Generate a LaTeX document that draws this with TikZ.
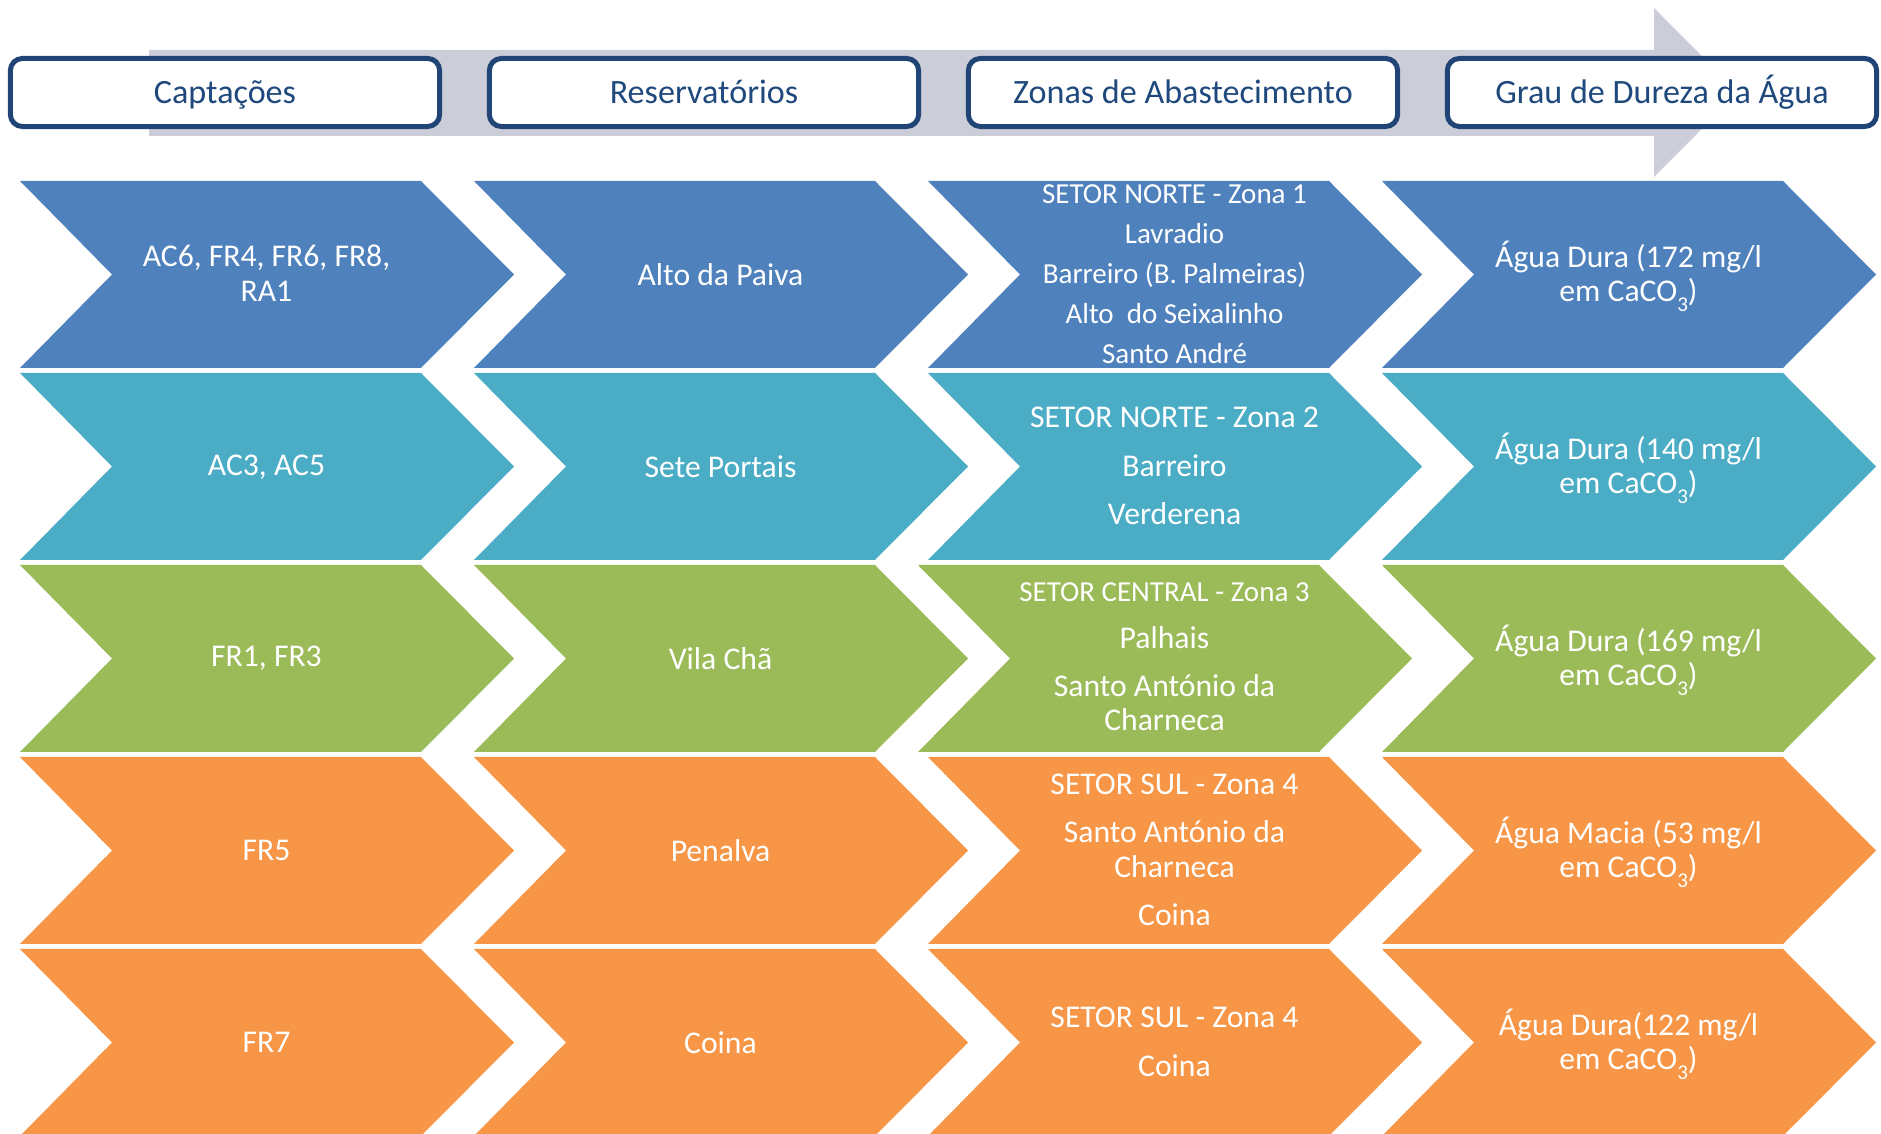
\documentclass[tikz,border=0pt]{standalone}
\usepackage{fontspec}
\setmainfont{Carlito}
\definecolor{chevblue}{RGB}{79, 129, 189}
\definecolor{chevaqua}{RGB}{75, 172, 198}
\definecolor{chevolive}{RGB}{155, 187, 89}
\definecolor{chevorange}{RGB}{247, 150, 70}
\definecolor{navyline}{RGB}{31, 68, 117}
\definecolor{navytext}{RGB}{31, 73, 125}
\definecolor{flowgray}{RGB}{203, 206, 216}
% chevron: left x, top y, colour
\newcommand{\chevronfill}[3]{%
  \fill[#3] (#1,#2) -- ++(401,0) -- ++(93,93.5) -- ++(-93,93.5) -- ++(-401,0) -- ++(92,-93.5) -- cycle;}
% CaCO3 with lowered 3
\newcommand{\caco}{CaCO\raisebox{-2.6pt}{\fontsize{6}{6}\selectfont 3}}
\tikzset{
  hbox/.style={draw=navyline, line width=0.05cm, rounded corners=0.12cm, fill=white,
               minimum width=4.29cm, minimum height=0.68cm, inner sep=0pt,
               text height=6.25pt, text depth=0pt,
               text=navytext, font=\fontsize{9.7}{11}\selectfont},
  cell/.style={text=white, align=center, inner sep=0pt, font=\fontsize{9}{9.9}\selectfont},
}
\begin{document}
\begin{tikzpicture}[x=0.01cm, y=-0.01cm]
            \useasboundingbox (0,0) rectangle (1881,1134);
            \clip (0,0) rectangle (1881,1134);
            % Flow arrow behind the headers
            \fill[flowgray] (149,50) -- (1654,50) -- (1654,8) -- (1738,92.5) -- (1654,177) -- (1654,136) -- (149,136) -- cycle;
            % Headers
            \node[hbox] (hcap) at ( 225,92.5) {Captações};
            \node[hbox] (hres) at ( 704,92.5) {Reservatórios};
            \node[hbox] (hzon) at (1183,92.5) {Zonas de Abastecimento};
            \node[hbox] (hdur) at (1662,92.5) {Grau de Dureza da Água};
            % Row 1
            \chevronfill{  20}{181}{chevblue}
            \chevronfill{ 474}{181}{chevblue}
            \chevronfill{ 928}{181}{chevblue}
            \chevronfill{1382}{181}{chevblue}
            \node[cell] (cap1) at ( 266.5,273) {AC6, FR4, FR6, FR8,\\RA1};
            \node[cell] (res1) at ( 720.5,274.5) {Alto da Paiva};
            \node[cell, font=\fontsize{8.25}{11.4}\selectfont] (zon1) at (1174.5,274) {SETOR NORTE - Zona 1\\Lavradio\\Barreiro (B. Palmeiras)\\Alto~ do Seixalinho\\Santo André};
            \node[cell] (dur1) at (1628.5,276) {Água Dura (172 mg/l\\em \caco)};
            % Row 2
            \chevronfill{  20}{373}{chevaqua}
            \chevronfill{ 474}{373}{chevaqua}
            \chevronfill{ 928}{373}{chevaqua}
            \chevronfill{1382}{373}{chevaqua}
            \node[cell] (cap2) at ( 266.5,467) {AC3, AC5};
            \node[cell] (res2) at ( 720.5,466.5) {Sete Portais};
            \node[cell, font=\fontsize{9}{13.8}\selectfont] (zon2) at (1174.5,466) {SETOR NORTE - Zona 2\\Barreiro\\Verderena};
            \node[cell] (dur2) at (1628.5,468) {Água Dura (140 mg/l\\em \caco)};
            % Row 3
            \chevronfill{  20}{565}{chevolive}
            \chevronfill{ 474}{565}{chevolive}
            \chevronfill{ 918}{565}{chevolive}
            \chevronfill{1382}{565}{chevolive}
            \node[cell] (cap3) at ( 266.5,658.5) {FR1, FR3};
            \node[cell] (res3) at ( 720.5,658.5) {Vila Chã};
            \node[cell, font=\fontsize{9}{9.6}\selectfont] (zon3) at (1164.5,657) {{\fontsize{8.25}{9.6}\selectfont SETOR CENTRAL - Zona 3}\\[3.6pt]Palhais\\[4.2pt]Santo António da\\Charneca};
            \node[cell] (dur3) at (1628.5,660) {Água Dura (169 mg/l\\em \caco)};
            % Row 4
            \chevronfill{  20}{757}{chevorange}
            \chevronfill{ 474}{757}{chevorange}
            \chevronfill{ 928}{757}{chevorange}
            \chevronfill{1382}{757}{chevorange}
            \node[cell] (cap4) at ( 266.5,850.5) {FR5};
            \node[cell] (res4) at ( 720.5,850.5) {Penalva};
            \node[cell] (zon4) at (1174.5,850) {SETOR SUL - Zona 4\\[3.8pt]Santo António da\\Charneca\\[3.8pt]Coina};
            \node[cell] (dur4) at (1628.5,852) {Água Macia (53 mg/l\\em \caco)};
            % Row 5
            \chevronfill{  20}{949}{chevorange}
            \chevronfill{ 474}{949}{chevorange}
            \chevronfill{ 928}{949}{chevorange}
            \chevronfill{1382}{949}{chevorange}
            \node[cell] (cap5) at ( 266.5,1042.5) {FR7};
            \node[cell] (res5) at ( 720.5,1042.5) {Coina};
            \node[cell, font=\fontsize{9}{14}\selectfont] (zon5) at (1174.5,1042) {SETOR SUL - Zona 4\\Coina};
            \node[cell] (dur5) at (1628.5,1044) {Água Dura(122 mg/l\\em \caco)};
        \end{tikzpicture}
\end{document}
